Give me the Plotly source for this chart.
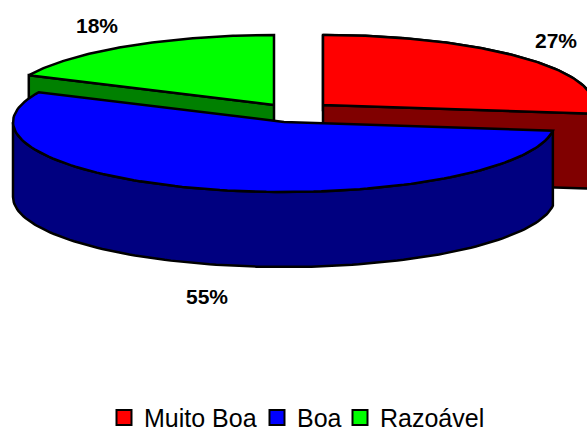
import numpy as np
import plotly.graph_objects as go

categories = ["Muito Boa", "Boa", "Razoável"]
values = [27, 55, 18]
labels = ["27%", "55%", "18%"]
top_colors = ["#ff0000", "#0000ff", "#00ff00"]
side_colors = ["#800000", "#000080", "#008000"]

# projection of the tilted pie, in page pixels
W, H = 587, 432
RX, RY, DEPTH = 271, 70, 75
centers = {"Muito Boa": (323, 105), "Boa": (284, 122), "Razoável": (274, 105)}
label_pos = {"Muito Boa": (556, 40), "Boa": (207, 296), "Razoável": (97, 25)}
legend_left = {"Muito Boa": 104, "Boa": 257, "Razoável": 340}

shares = np.array(values) / sum(values) * 360
ends = np.cumsum(shares)
starts = ends - shares


def rim(cat, a0, a1, dy=0):
    t = np.radians(np.linspace(a0, a1, 120))
    cx, cy = centers[cat]
    return cx + RX * np.sin(t), cy - RY * np.cos(t) + dy


def poly(xs, ys, fill, name=None):
    return go.Scatter(
        x=list(xs), y=list(ys), mode="lines", fill="toself", fillcolor=fill,
        line=dict(color="#000000", width=2.5), hoverinfo="skip", showlegend=False,
    )


def wall(cat, a0, a1, fill):
    x, y = rim(cat, a0, a1)
    return poly(np.r_[x, x[::-1], x[0]], np.r_[y, y[::-1] + DEPTH, y[0]], fill)


def cut(cat, a, fill):
    cx, cy = centers[cat]
    x, y = rim(cat, a, a)
    ex, ey = x[0], y[0]
    return poly([cx, ex, ex, cx, cx], [cy, ey, ey + DEPTH, cy + DEPTH, cy], fill)


def top(cat, a0, a1, fill):
    cx, cy = centers[cat]
    x, y = rim(cat, a0, a1)
    return poly(np.r_[cx, x, cx], np.r_[cy, y, cy], fill)


fig = go.Figure()
order = [2, 0, 1]
for i in order:
    c = categories[i]
    if c == "Razoável":
        fig.add_trace(cut(c, starts[i], side_colors[i]))
    if c == "Muito Boa":
        fig.add_trace(wall(c, starts[i], ends[i], side_colors[i]))
        fig.add_trace(cut(c, ends[i], side_colors[i]))
    if c == "Boa":
        fig.add_trace(wall(c, starts[i], 270, side_colors[i]))
    fig.add_trace(top(c, starts[i], ends[i], top_colors[i]))

legend_keys = ["legend", "legend2", "legend3"]
legend_layout = {}
for i, c in enumerate(categories):
    fig.add_trace(go.Scatter(
        x=[None], y=[None], mode="markers", name=c, showlegend=True,
        legend=legend_keys[i],
        marker=dict(symbol="square", size=15, color=top_colors[i],
                    line=dict(color="#000000", width=2)),
    ))
    lx, ly = label_pos[c]
    fig.add_annotation(x=lx, y=ly, text=f"<b>{labels[i]}</b>", showarrow=False,
                       font=dict(family="Liberation Sans", size=21, color="#000000"))
    legend_layout[legend_keys[i]] = dict(
        orientation="h", x=legend_left[c] / W, xanchor="left", y=-0.02, yanchor="bottom",
        font=dict(family="Liberation Sans", size=25, color="#000000"),
        itemwidth=30, bgcolor="rgba(0,0,0,0)",
    )

fig.update_layout(
    width=W, height=H, margin=dict(l=0, r=0, t=0, b=0, autoexpand=False),
    paper_bgcolor="#ffffff", plot_bgcolor="#ffffff",
    xaxis=dict(range=[0, W], visible=False, fixedrange=True),
    yaxis=dict(range=[H, 0], visible=False, fixedrange=True),
    **legend_layout,
)
fig.write_html("out.html", config=dict(displayModeBar=False),
               post_script="document.body.style.margin='0';document.documentElement.style.overflow='hidden';")
